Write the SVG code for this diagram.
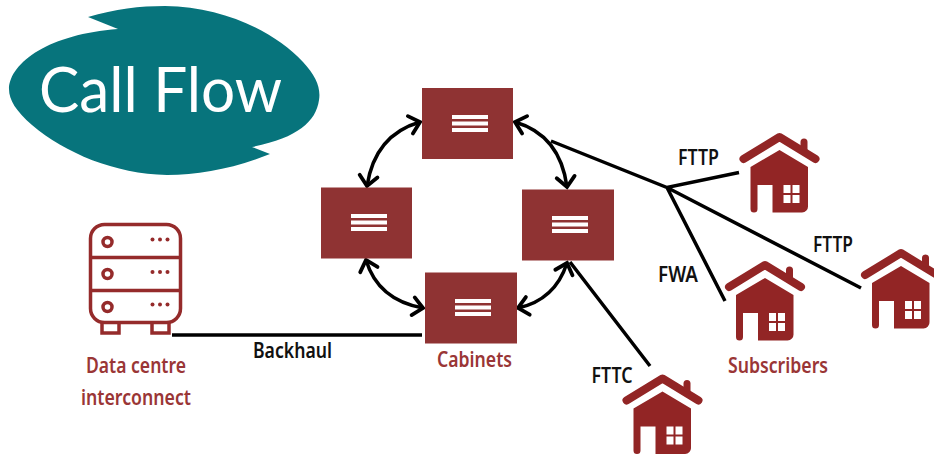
<svg xmlns="http://www.w3.org/2000/svg" width="934" height="454" viewBox="0 0 934 454">
<style>
.lbl{font-family:"Liberation Sans Narrow","Noto Sans","Liberation Sans",sans-serif;font-size:21px;fill:#111;font-weight:600}
.red{fill:#9a3636}
.cab{fill:#8f3333}
.bar{fill:#fff}
.wire{fill:none;stroke:#000;stroke-width:3.500;stroke-linecap:butt}
.arc{fill:none;stroke:#000;stroke-width:3.500;marker-start:url(#chev);marker-end:url(#chev)}
.srv{fill:none;stroke:#952b2b;stroke-width:3.500}
</style>
<defs>
<marker id="chev" markerUnits="userSpaceOnUse" markerWidth="16" markerHeight="24" refX="13" refY="12" orient="auto-start-reverse" viewBox="0 0 16 24">
<path d="M3 3L13 12L3 21" fill="none" stroke="#000" stroke-width="3.800" stroke-linecap="round" stroke-linejoin="miter"/>
</marker>
<g id="house">
<path d="M-36 26L0 4L36 26" fill="none" stroke="#922525" stroke-width="8" stroke-linecap="round" stroke-linejoin="round"/>
<path d="M21 16V9a3.500 3.500 0 0 1 7 0V20z" fill="#922525"/>
<path fill-rule="evenodd" fill="#922525" d="M0 17L28.500 34V73a6 6 0 0 1-6 6.500H-7V52H-22V76a3.500 3.500 0 0 1-7 0V34z"/>
<path fill="#fff" d="M4 52h7v8h-7zM13 52h7v8h-7zM4 62h7v8h-7zM13 62h7v8h-7z"/>
</g>
<g id="menu">
<rect class="bar" x="0" y="0" width="36" height="4"/>
<rect class="bar" x="0" y="6.500" width="36" height="4"/>
<rect class="bar" x="0" y="13" width="36" height="4"/>
</g>
</defs>
<rect width="934" height="454" fill="#fff"/>
<g id="logo">
<path fill="#07747c" d="M88 17C115 9 140 6 165 6C225 7 275 32 303 62C316 76 321 88 319 100C316 122 297 138 252 147L270 154C235 168 200 175 167 175C115 174 65 153 32 125C16 111 9 100 9 89C10 62 50 34 118 29Z"/>
<text x="39" y="112" font-family="Lato,'Noto Sans',sans-serif" font-weight="400" font-size="62" fill="#fff" textLength="243" lengthAdjust="spacingAndGlyphs">Call Flow</text>
</g>
<g id="connectors">
<path class="wire" d="M172 335H422"/>
<path class="wire" d="M551 141L667 187.500L739 172.500M667 187.500L725 301M667 187.500L861 288M570 262L650 366"/>
<path class="arc" d="M420 122Q375 135 367 186"/>
<path class="arc" d="M515 122Q560 135 567 187"/>
<path class="arc" d="M366 260Q378 300 423 308"/>
<path class="arc" d="M567 263Q555 300 518 308"/>
</g>
<g id="cabinet-top"><rect class="cab" x="422" y="88" width="91" height="71"/><use href="#menu" x="452" y="115"/></g>
<g id="cabinet-left"><rect class="cab" x="321" y="187.500" width="91" height="71"/><use href="#menu" x="351" y="214"/></g>
<g id="cabinet-right"><rect class="cab" x="522" y="189.500" width="92" height="71"/><use href="#menu" x="552" y="216"/></g>
<g id="cabinet-bottom"><rect class="cab" x="425" y="272.500" width="92" height="71"/><use href="#menu" x="455" y="299"/></g>
<g id="server">
<rect class="srv" x="90.500" y="224.500" width="90" height="98" rx="14"/>
<path class="srv" d="M90.500 257.500H180.500M90.500 290.500H180.500"/>
<circle class="srv" cx="107.500" cy="242" r="4.500"/><circle class="srv" cx="107.500" cy="274" r="4.500"/><circle class="srv" cx="107.500" cy="307" r="4.500"/>
<g fill="#952b2b">
<circle cx="152.500" cy="239.500" r="2"/><circle cx="160" cy="239.500" r="2"/><circle cx="167.500" cy="239.500" r="2"/>
<circle cx="152.500" cy="272" r="2"/><circle cx="160" cy="272" r="2"/><circle cx="167.500" cy="272" r="2"/>
<circle cx="152.500" cy="304.500" r="2"/><circle cx="160" cy="304.500" r="2"/><circle cx="167.500" cy="304.500" r="2"/>
</g>
<path class="srv" d="M102 323V333H119V323M152 323V333H169V323"/>
<text class="lbl red" x="86" y="373" textLength="100" lengthAdjust="spacingAndGlyphs">Data centre</text>
<text class="lbl red" x="81" y="405" textLength="110" lengthAdjust="spacingAndGlyphs">interconnect</text>
</g>
<g id="house-1"><use href="#house" x="779.500" y="133"/></g>
<g id="house-2"><use href="#house" x="765" y="261"/></g>
<g id="house-3"><use href="#house" x="901" y="249"/></g>
<g id="house-4"><use href="#house" x="662.500" y="374.500"/></g>
<g id="labels">
<text class="lbl" x="253" y="358" textLength="79" lengthAdjust="spacingAndGlyphs">Backhaul</text>
<text class="lbl red" x="437" y="367" textLength="75" lengthAdjust="spacingAndGlyphs">Cabinets</text>
<text class="lbl" x="678" y="165" textLength="41" lengthAdjust="spacingAndGlyphs">FTTP</text>
<text class="lbl" x="813" y="252" textLength="40" lengthAdjust="spacingAndGlyphs">FTTP</text>
<text class="lbl" x="658" y="282" textLength="40" lengthAdjust="spacingAndGlyphs">FWA</text>
<text class="lbl" x="591.500" y="383" textLength="41" lengthAdjust="spacingAndGlyphs">FTTC</text>
<text class="lbl red" x="728" y="373" textLength="100" lengthAdjust="spacingAndGlyphs">Subscribers</text>
</g>
</svg>
